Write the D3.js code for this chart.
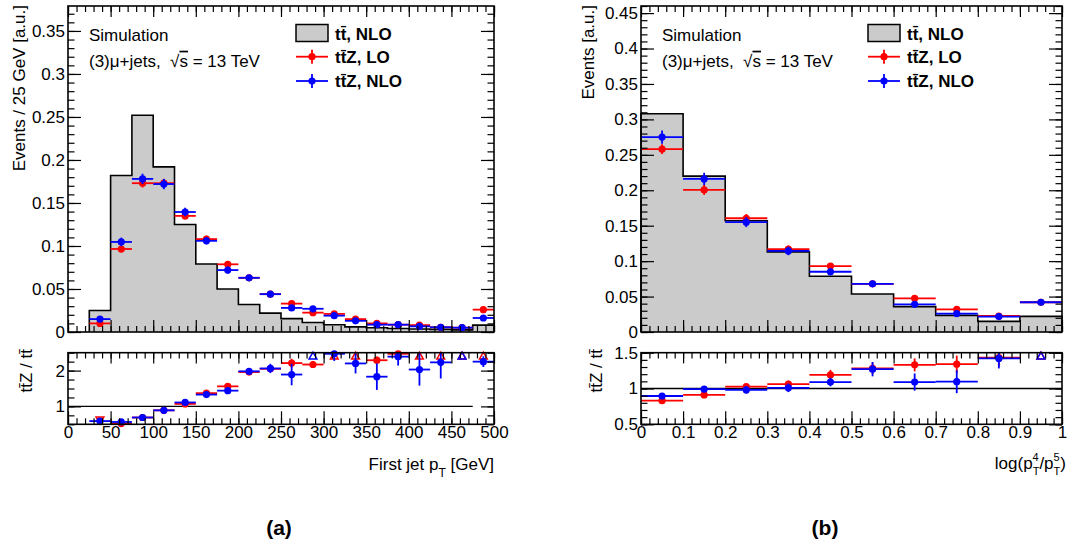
<!DOCTYPE html>
<html>
<head>
<meta charset="utf-8">
<script src="https://cdn.jsdelivr.net/npm/d3@7"></script>
<style>
 body { margin:0; background:#fff; }
 svg text { font-family:"Liberation Sans", Arial, sans-serif; white-space:pre; }
</style>
</head>
<body>
<svg id="chart" width="1069" height="547"></svg>
<script>
// (a) first jet pT, 25 GeV bins
var ptEdges = [25,50,75,100,125,150,175,200,225,250,275,300,325,350,375,400,425,450,475,500];
var ptTT  = [0.025,0.182,0.252,0.192,0.125,0.079,0.050,0.032,0.022,0.0155,0.011,0.0085,0.006,0.005,0.004,0.0035,0.003,0.0025,0.008];
var ptLO  = [0.010,0.0965,0.173,0.173,0.135,0.108,0.0787,0.063,0.044,0.033,0.0225,0.021,0.015,0.010,0.0085,0.008,0.0055,0.005,0.026];
var ptNLO = [0.015,0.1047,0.178,0.172,0.1395,0.106,0.072,0.063,0.044,0.028,0.027,0.019,0.013,0.0085,0.0085,0.0066,0.0055,0.005,0.0163];
var ptErrLO  = [0.002,0.004,0.005,0.005,0.004,0.004,0.003,0.003,0.002,0.002,0.002,0.002,0.0015,0.0015,0.0012,0.0012,0.001,0.001,0.002];
var ptErrNLO = [0.003,0.005,0.006,0.006,0.005,0.004,0.004,0.003,0.003,0.003,0.003,0.002,0.002,0.002,0.0015,0.0015,0.0012,0.0012,0.002];
var ptRatioLO  = [0.4,0.52,0.69,0.89,1.07,1.37,1.56,1.96,2.05,2.21,2.17,2.6,2.6,2.29,2.47,2.6,2.6,2.6,2.6];
var ptRatioNLO = [0.59,0.565,0.69,0.89,1.11,1.33,1.44,1.98,2.06,1.89,2.6,2.47,2.2,1.83,2.39,2.03,2.23,2.6,2.25];
var ptRatioErrLO  = [0.05,0.03,0.03,0.03,0.04,0.05,0.06,0.06,0.08,0.12,0.1,0.15,0.15,0.1,0.12,0.2,0.2,0.2,0.15];
var ptRatioErrNLO = [0.04,0.03,0.03,0.03,0.04,0.04,0.05,0.05,0.13,0.3,0.2,0.2,0.28,0.37,0.25,0.45,0.45,0.3,0.15];
var ptTicks = [0,50,100,150,200,250,300,350,400,450,500];
var ptYTicks = [0,0.05,0.1,0.15,0.2,0.25,0.3,0.35];
var ptRatioTicks = [1,2];

// (b) log(pT4/pT5), 0.1 bins
var logEdges = [0,0.1,0.2,0.3,0.4,0.5,0.6,0.7,0.8,0.9,1.0];
var logTT  = [0.308,0.220,0.157,0.113,0.0787,0.0537,0.0358,0.0235,0.015,0.022];
var logLO  = [0.258,0.2005,0.1605,0.117,0.093,0.068,0.0475,0.032,0.0226,0.042];
var logNLO = [0.275,0.216,0.155,0.1144,0.085,0.068,0.039,0.026,0.0217,0.042];
var logErrLO  = [0.007,0.007,0.006,0.005,0.004,0.004,0.003,0.003,0.002,0.003];
var logErrNLO = [0.0095,0.0087,0.007,0.006,0.005,0.004,0.004,0.003,0.003,0.003];
var logRatioLO  = [0.83,0.91,1.025,1.06,1.19,1.28,1.33,1.34,1.43,1.6];
var logRatioNLO = [0.895,0.99,0.98,1.01,1.09,1.27,1.09,1.095,1.42,1.6];
var logRatioErrLO  = [0.03,0.03,0.04,0.05,0.07,0.08,0.09,0.12,0.12,0.1];
var logRatioErrNLO = [0.04,0.04,0.05,0.06,0.06,0.1,0.12,0.16,0.14,0.1];
var logTicks = [0,0.1,0.2,0.3,0.4,0.5,0.6,0.7,0.8,0.9,1];
var logYTicks = [0,0.05,0.1,0.15,0.2,0.25,0.3,0.35,0.4,0.45];
var logRatioTicks = [0.5,1,1.5];

var svg = d3.select("#chart");
var FONT = "Liberation Sans, Arial, sans-serif";
var RED = "#ff0000", BLUE = "#0000ff";
var fmt = function(d){ return String(+d.toFixed(2)); };

function axisG(fn, scale, vals, len, tr, labels, pad) {
  var a = fn(scale).tickValues(vals).tickSize(-len)
    .tickPadding(pad || 0).tickFormat(labels ? fmt : "");
  var g = svg.append("g").attr("transform", tr).call(a);
  g.select(".domain").remove();
  g.selectAll("line").attr("stroke", "#000").attr("stroke-width", 1.2);
  g.attr("font-size", 17).attr("font-family", FONT);
  g.selectAll("text").attr("fill", "#000");
  return g;
}

function points(g, bins, vals, errs, ys, color, lo, hi) {
  var s = g.append("g");
  bins.forEach(function(b, i) {
    var v = vals[i];
    if (hi !== undefined && v > hi) {
      s.append("path").attr("d", d3.symbol().type(d3.symbolTriangle).size(26)())
        .attr("transform", "translate(" + b.xc + "," + (ys(hi) + 4) + ")")
        .attr("fill", "none").attr("stroke", color).attr("stroke-width", 1.5);
      return;
    }
    if (lo !== undefined && v < lo) {
      s.append("path").attr("d", d3.symbol().type(d3.symbolTriangle).size(26)())
        .attr("transform", "translate(" + b.xc + "," + (ys(lo) - 5) + ") rotate(180)")
        .attr("fill", "none").attr("stroke", color).attr("stroke-width", 1.5);
      return;
    }
    s.append("line").attr("x1", b.x0).attr("x2", b.x1).attr("y1", ys(v)).attr("y2", ys(v))
      .attr("stroke", color).attr("stroke-width", 1.8);
    var top = ys(v + errs[i]), bot = ys(v - errs[i]);
    if (hi !== undefined) { top = Math.max(top, ys(hi)); bot = Math.min(bot, ys(lo)); }
    s.append("line").attr("x1", b.xc).attr("x2", b.xc).attr("y1", top).attr("y2", bot)
      .attr("stroke", color).attr("stroke-width", 1.8);
    s.append("circle").attr("cx", b.xc).attr("cy", ys(v)).attr("r", 3.6).attr("fill", color);
  });
}

function drawPanel(o) {
  var x = d3.scaleLinear().domain(o.xDomain).range([o.left, o.right]);
  var y = d3.scaleLinear().domain([0, o.yMax]).range([332, 6]);
  var yr = d3.scaleLinear().domain(o.rDomain).range([424.3, 352.7]);
  var n = o.tt.length;
  var bins = o.tt.map(function(v, i) {
    return { x0: x(o.edges[i]), x1: x(o.edges[i + 1]), xc: x((o.edges[i] + o.edges[i + 1]) / 2) };
  });

  // tt histogram
  var steps = [{ e: o.edges[0], v: 0 }]
    .concat(o.edges.map(function(e, i) { return { e: e, v: o.tt[Math.min(i, n - 1)] }; }))
    .concat([{ e: o.edges[n], v: 0 }]);
  var area = d3.area().x(function(d){ return x(d.e); }).y0(y(0)).y1(function(d){ return y(d.v); }).curve(d3.curveStepAfter);
  var line = d3.line().x(function(d){ return x(d.e); }).y(function(d){ return y(d.v); }).curve(d3.curveStepAfter);
  svg.append("path").attr("d", area(steps)).attr("fill", "#cbcbcb");
  svg.append("path").attr("d", line(steps)).attr("fill", "none").attr("stroke", "#000").attr("stroke-width", 1.6);

  var g = svg.append("g");
  points(g, bins, o.lo, o.errLo, y, RED);
  points(g, bins, o.nlo, o.errNlo, y, BLUE);

  // top pad axes
  var yMinor = d3.range(0, o.yMax + 1e-9, 0.01);
  axisG(d3.axisLeft, y, yMinor, 6.5, "translate(" + o.left + ",0)", false);
  axisG(d3.axisLeft, y, o.yTicks, 13, "translate(" + o.left + ",0)", true, 3);
  axisG(d3.axisRight, y, yMinor, 6.5, "translate(" + o.right + ",0)", false);
  axisG(d3.axisRight, y, o.yTicks, 13, "translate(" + o.right + ",0)", false);
  axisG(d3.axisBottom, x, o.xMinor, 6, "translate(0,332)", false);
  axisG(d3.axisBottom, x, o.xTicks, 12, "translate(0,332)", false);
  axisG(d3.axisTop, x, o.xMinor, 6, "translate(0,6)", false);
  axisG(d3.axisTop, x, o.xTicks, 11, "translate(0,6)", false);
  svg.append("rect").attr("x", o.left).attr("y", 6).attr("width", o.right - o.left).attr("height", 326)
    .attr("fill", "none").attr("stroke", "#000").attr("stroke-width", 1.6);

  // ratio pad
  svg.append("line").attr("x1", x(o.xDomain[0])).attr("x2", x(o.refEnd))
    .attr("y1", yr(1)).attr("y2", yr(1)).attr("stroke", "#000").attr("stroke-width", 1.4);
  var rg = svg.append("g");
  points(rg, bins, o.rLo, o.rErrLo, yr, RED, o.rDomain[0], o.rDomain[1]);
  points(rg, bins, o.rNlo, o.rErrNlo, yr, BLUE, o.rDomain[0], o.rDomain[1]);
  var rMinor = d3.range(o.rDomain[0], o.rDomain[1] + 1e-9, o.rStep);
  axisG(d3.axisLeft, yr, rMinor, 6.5, "translate(" + o.left + ",0)", false);
  axisG(d3.axisLeft, yr, o.rTicks, 13, "translate(" + o.left + ",0)", true, 3);
  axisG(d3.axisRight, yr, rMinor, 6.5, "translate(" + o.right + ",0)", false);
  axisG(d3.axisRight, yr, o.rTicks, 13, "translate(" + o.right + ",0)", false);
  axisG(d3.axisBottom, x, o.xMinor, 6, "translate(0,424.3)", false);
  axisG(d3.axisBottom, x, o.xTicks, 13, "translate(0,424.3)", true, 2);
  axisG(d3.axisTop, x, o.xMinor, 5.7, "translate(0,352.7)", false);
  axisG(d3.axisTop, x, o.xTicks, 10.7, "translate(0,352.7)", false);
  svg.append("rect").attr("x", o.left).attr("y", 352.7).attr("width", o.right - o.left).attr("height", 71.6)
    .attr("fill", "none").attr("stroke", "#000").attr("stroke-width", 1.6);

  // texts
  svg.append("text").attr("x", o.left + 21).attr("y", 40.7).attr("font-size", 17).text("Simulation");
  var t2 = svg.append("text").attr("x", o.left + 21).attr("y", 66.7).attr("font-size", 17);
  t2.append("tspan").text("(3)\u03bc+jets,  \u221a");
  t2.append("tspan").style("text-decoration", "overline").text("s");
  t2.append("tspan").text(" = 13 TeV");

  // legend
  var lx = o.legX;
  svg.append("rect").attr("x", lx).attr("y", 24.5).attr("width", 32).attr("height", 17)
    .attr("fill", "#cbcbcb").attr("stroke", "#000").attr("stroke-width", 1.5);
  [[RED, 56.7], [BLUE, 81]].forEach(function(r) {
    svg.append("line").attr("x1", lx).attr("x2", lx + 32).attr("y1", r[1]).attr("y2", r[1]).attr("stroke", r[0]).attr("stroke-width", 1.8);
    svg.append("line").attr("x1", lx + 16).attr("x2", lx + 16).attr("y1", r[1] - 7).attr("y2", r[1] + 7).attr("stroke", r[0]).attr("stroke-width", 1.8);
    svg.append("circle").attr("cx", lx + 16).attr("cy", r[1]).attr("r", 3.6).attr("fill", r[0]);
  });
  var legTxt = ["tt\u0304, NLO", "tt\u0304Z, LO", "tt\u0304Z, NLO"];
  [39.5, 63, 87.2].forEach(function(yy, i) {
    svg.append("text").attr("x", lx + 39).attr("y", yy).attr("font-size", 17).attr("font-weight", "bold").text(legTxt[i]);
  });

  // y titles
  svg.append("text").attr("transform", "translate(" + o.yTitleX + ",5) rotate(-90)")
    .attr("text-anchor", "end").attr("font-size", 17).text(o.yTitle);
  svg.append("text").attr("transform", "translate(" + o.rTitleX + ",349) rotate(-90)")
    .attr("text-anchor", "end").attr("font-size", 17).text("tt\u0304Z / tt\u0304");

  // panel tag
  svg.append("text").attr("x", o.tagX).attr("y", 535).attr("text-anchor", "middle")
    .attr("font-family", "Open Sans, sans-serif").attr("font-weight", "bold").attr("font-size", 21).text(o.tag);
  return x;
}

drawPanel({
  xDomain: [0, 500], left: 68, right: 494, yMax: 0.379, rDomain: [0.5, 2.5], rStep: 0.25,
  edges: ptEdges, tt: ptTT, lo: ptLO, nlo: ptNLO, errLo: ptErrLO, errNlo: ptErrNLO,
  rLo: ptRatioLO, rNlo: ptRatioNLO, rErrLo: ptRatioErrLO, rErrNlo: ptRatioErrNLO,
  yTicks: ptYTicks, xTicks: ptTicks, xMinor: d3.range(0, 501, 10), rTicks: ptRatioTicks,
  refEnd: 475, legX: 296, yTitle: "Events / 25 GeV [a.u.]", yTitleX: 24.5, rTitleX: 32,
  tag: "(a)", tagX: 279
});
drawPanel({
  xDomain: [0, 1], left: 641, right: 1062, yMax: 0.46, rDomain: [0.5, 1.5], rStep: 0.1,
  edges: logEdges, tt: logTT, lo: logLO, nlo: logNLO, errLo: logErrLO, errNlo: logErrNLO,
  rLo: logRatioLO, rNlo: logRatioNLO, rErrLo: logRatioErrLO, rErrNlo: logRatioErrNLO,
  yTicks: logYTicks, xTicks: logTicks, xMinor: d3.range(0, 1.0001, 0.02), rTicks: logRatioTicks,
  refEnd: 1, legX: 868, yTitle: "Events [a.u.]", yTitleX: 594, rTitleX: 602,
  tag: "(b)", tagX: 825
});

// x titles
var xt1 = svg.append("text").attr("x", 494).attr("y", 469.5).attr("text-anchor", "end").attr("font-size", 17);
xt1.append("tspan").text("First jet p");
xt1.append("tspan").attr("font-size", 12).attr("dy", 7).text("T");
xt1.append("tspan").attr("dy", -7).text(" [GeV]");

// stacked super/subscripts: p_T^4 / p_T^5
var xt2 = svg.append("text").attr("x", 1066).attr("y", 469).attr("text-anchor", "end").attr("font-size", 17);
xt2.append("tspan").text("log(p");
xt2.append("tspan").attr("font-size", 11).attr("dy", -8.5).text("4");
xt2.append("tspan").attr("font-size", 11).attr("dx", -6.1).attr("dy", 14).text("T");
xt2.append("tspan").attr("dy", -5.5).text("/p");
xt2.append("tspan").attr("font-size", 11).attr("dy", -8.5).text("5");
xt2.append("tspan").attr("font-size", 11).attr("dx", -6.1).attr("dy", 14).text("T");
xt2.append("tspan").attr("dy", -5.5).text(")");
</script>
</body>
</html>
